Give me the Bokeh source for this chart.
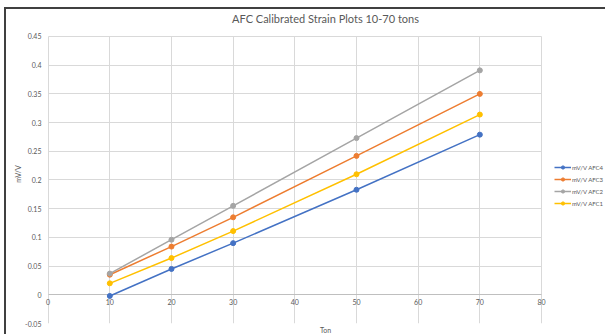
from bokeh.plotting import figure
from bokeh.models import Range1d, FixedTicker, Legend, LegendItem, Grid, Title
from bokeh.embed import file_html
from bokeh.resources import INLINE
from bokeh.core.properties import value

# ---- data ----
tons = [10, 20, 30, 50, 70]
afc4 = [-0.002, 0.045, 0.090, 0.183, 0.279]
afc3 = [0.035, 0.084, 0.135, 0.242, 0.350]
afc2 = [0.037, 0.096, 0.155, 0.273, 0.391]
afc1 = [0.020, 0.064, 0.111, 0.210, 0.314]
series_names = ["mV/V AFC4", "mV/V AFC3", "mV/V AFC2", "mV/V AFC1"]
series_colors = ["#4472C4", "#ED7D31", "#A5A5A5", "#FFC000"]
x_ticks = [0, 10, 20, 30, 40, 50, 60, 70, 80]
x_tick_labels = ["0", "10", "20", "30", "40", "50", "60", "70", "80"]
y_ticks = [-0.05, 0, 0.05, 0.1, 0.15, 0.2, 0.25, 0.3, 0.35, 0.4, 0.45]
y_tick_labels = ["-0.05", "0", "0.05", "0.1", "0.15", "0.2", "0.25", "0.3", "0.35", "0.4", "0.45"]
title_text = "AFC Calibrated Strain Plots 10-70 tons"

FONT = "Lato"
TXT = "#595959"
X_MIN, X_MAX = 0, 80
Y_MIN, Y_MAX = -0.05, 0.45

# frame extends past the 0..80 / -0.05..0.45 plot area so the legend and edge labels
# are not clipped; grid lines are bounded to the plot area
p = figure(width=601, height=327, x_range=Range1d(-0.75, 90.70),
           y_range=Range1d(Y_MIN, 0.4709),
           output_backend="svg", toolbar_location=None,
           min_border_left=37, min_border_right=0, min_border_top=15, min_border_bottom=13,
           title=title_text)
p.styles = {"border-left": "2px solid #404040", "border-top": "2px solid #404040",
            "margin-left": "4px", "margin-top": "7px"}
p.outline_line_color = None
p.background_fill_color = "white"
p.border_fill_color = "white"

p.title.align = "center"
p.title.text_font = FONT
p.title.text_font_size = "11px"
p.title.text_font_style = "normal"
p.title.text_color = TXT
p.title.standoff = 0
p.title.offset = -26

p.xgrid.ticker = FixedTicker(ticks=x_ticks)
p.xgrid.bounds = (X_MIN, X_MAX)
p.xgrid.cross_bounds = (Y_MIN, Y_MAX)
p.ygrid.ticker = FixedTicker(ticks=y_ticks)
p.ygrid.cross_bounds = (X_MIN, X_MAX)
for g in (p.xgrid, p.ygrid):
    g.grid_line_color = "#d9d9d9"
    g.grid_line_width = 1

# zero (category) axis line across the plot
p.add_layout(Grid(dimension=1, ticker=FixedTicker(ticks=[0]), cross_bounds=(X_MIN, X_MAX),
                  grid_line_color="#bfbfbf", grid_line_width=1))

xa = p.xaxis[0]
xa.ticker = FixedTicker(ticks=[])
xa.visible = False

ya = p.yaxis[0]
ya.ticker = FixedTicker(ticks=y_ticks)
ya.major_label_overrides = {t: l for t, l in zip(y_ticks, y_tick_labels)}
ya.axis_line_color = None
ya.major_tick_line_color = None
ya.minor_tick_line_color = None
ya.major_tick_out = 0
ya.major_label_standoff = 2
ya.major_label_text_font = FONT
ya.major_label_text_font_size = "7px"
ya.major_label_text_color = TXT
ya.axis_label = "mV/V"
ya.axis_label_text_font = FONT
ya.axis_label_text_font_size = "7px"
ya.axis_label_text_font_style = "normal"
ya.axis_label_text_color = TXT
ya.axis_label_standoff = 0

# x-axis title centred on the 0..80 plot area
p.add_layout(Title(text="Ton", align="center", offset=-26, text_font=FONT,
                   text_font_size="7px", text_font_style="normal", text_color=TXT,
                   standoff=1), "below")

p.text(x=x_ticks, y=[0] * len(x_ticks), text=x_tick_labels, text_align="center",
       text_baseline="top", y_offset=4, text_font=value(FONT), text_font_size="7px",
       text_color=TXT)

items = []
for name, col, ys in zip(series_names, series_colors, [afc4, afc3, afc2, afc1]):
    r1 = p.line(tons, ys, line_color=col, line_width=1.5)
    r2 = p.scatter(tons, ys, marker="circle", size=5, fill_color=col, line_color=col)
    items.append(LegendItem(label=name, renderers=[r1, r2]))

legend = Legend(items=items, location=(511, 116), margin=0, padding=0,
                label_text_font=FONT, label_text_font_size="6px", label_text_color=TXT,
                glyph_width=17, glyph_height=8, label_standoff=1, spacing=4,
                label_height=8, border_line_color=None, background_fill_alpha=0)
p.add_layout(legend, "center")

open("out.html", "w").write(file_html(p, INLINE))
